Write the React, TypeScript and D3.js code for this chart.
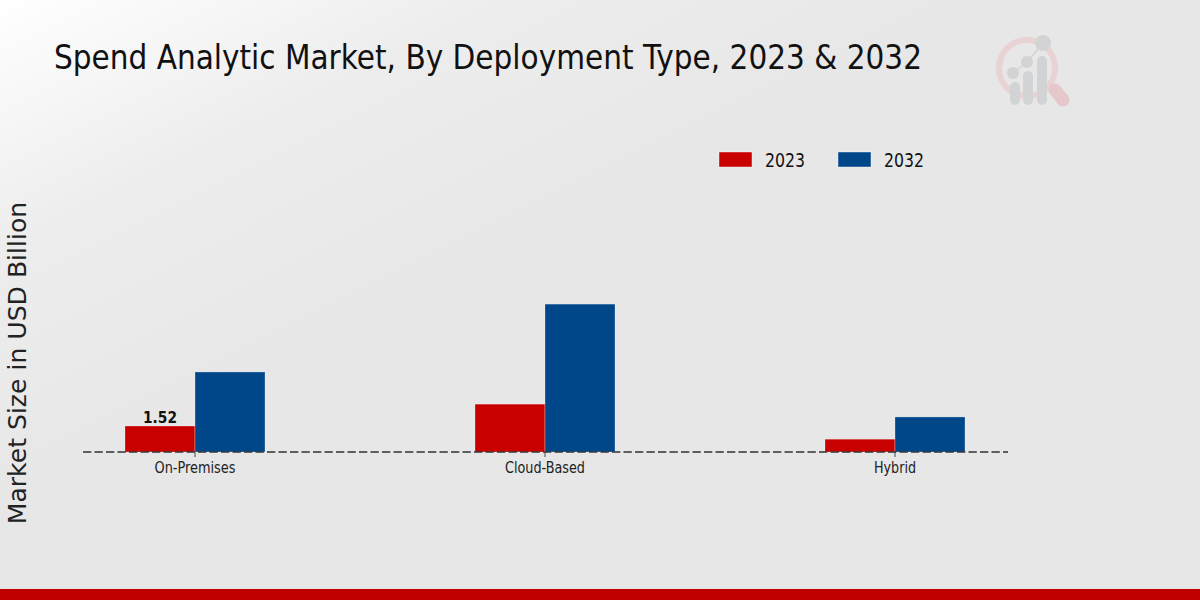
import * as d3 from "d3";

const TITLE = "Spend Analytic Market, By Deployment Type, 2023 & 2032";
const Y_LABEL = "Market Size in USD Billion";
const categories = ["On-Premises", "Cloud-Based", "Hybrid"];
const years = ["2023", "2032"];
const values2023 = [1.52, 2.8, 0.75];
const values2032 = [4.68, 8.65, 2.05];
const colors = ["#c80000", "#00478a"];

const WIDTH = 1200;
const HEIGHT = 600;
const FONT = "'DejaVu Sans', sans-serif";

const x = d3.scaleBand().domain(categories).range([20, 1070]).paddingInner(0.6).paddingOuter(0.3);
const y = d3.scaleLinear().domain([0, 10]).range([452, 281]);

// the original squeezes its text sideways, so set the final width directly
const Squeezed = ({ width, ...rest }: any) => (
  <text fontFamily={FONT} textLength={width} lengthAdjust="spacingAndGlyphs" {...rest} />
);

const Logo = () => (
  <g transform="translate(960,10)">
    <circle cx={67} cy={58} r={28} fill="none" stroke="#e8d2d3" strokeWidth={6} />
    <line x1={95} y1={80} x2={103} y2={90} stroke="#e6c8ca" strokeWidth={13} strokeLinecap="round" />
    <path d="M53,63 L67,52 L83,33" stroke="#d2d3d5" strokeWidth={1.5} fill="none" />
    <circle cx={53} cy={63} r={6} fill="#d2d3d5" />
    <circle cx={67} cy={52} r={6} fill="#d2d3d5" />
    <circle cx={83} cy={33} r={8} fill="#d2d3d5" />
    <rect x={50} y={72} width={10} height={23} rx={5} fill="#d2d3d5" />
    <rect x={63} y={61} width={10} height={34} rx={5} fill="#d2d3d5" />
    <rect x={77} y={46} width={10} height={49} rx={5} fill="#d2d3d5" />
  </g>
);

export default function App() {
  const band = x.bandwidth();
  const barW = band / 2;
  return (
    <svg
      width={WIDTH}
      height={HEIGHT}
      style={{ position: "absolute", left: 0, top: 0, display: "block" }}
    >
      <defs>
        <linearGradient id="bg" x1="0" y1="0" x2="0.42" y2="0.42">
          <stop offset="0" stopColor="#ffffff" />
          <stop offset="0.5" stopColor="#ededed" />
          <stop offset="1" stopColor="#e7e7e7" />
        </linearGradient>
      </defs>
      <rect width={WIDTH} height={HEIGHT} fill="url(#bg)" />
      <rect y={589} width={WIDTH} height={11} fill="#c00000" />
      <Logo />

      <Squeezed x={54} y={69} fontSize={34} width={868} fill="#111">
        {TITLE}
      </Squeezed>

      <text
        transform="translate(25.5,363) rotate(-90)"
        textAnchor="middle"
        fontSize={25.1}
        fill="#222"
        fontFamily={FONT}
      >
        {Y_LABEL}
      </text>

      {years.map((year, i) => (
        <g key={year}>
          <rect x={719 + i * 119} y={152} width={33} height={15} fill={colors[i]} stroke="#fff" strokeOpacity={0.6} strokeWidth={0.7} />
          <Squeezed x={765 + i * 119} y={166.5} fontSize={19} width={40} fill="#111">
            {year}
          </Squeezed>
        </g>
      ))}

      {categories.map((cat, i) => {
        const x0 = x(cat) as number;
        const center = x0 + barW;
        return (
          <g key={cat}>
            {[values2023[i], values2032[i]].map((v, j) => (
              <rect
                key={j}
                x={x0 + j * barW}
                y={y(v)}
                width={barW}
                height={y(0) - y(v)}
                fill={colors[j]}
                stroke="#fff"
                strokeOpacity={0.4}
                strokeWidth={0.7}
              />
            ))}
            <line x1={center} x2={center} y1={452} y2={457} stroke="#444" strokeWidth={1} />
            <text x={center} y={473} textAnchor="middle" fontSize={15.5} fill="#222" fontFamily={FONT} textLength={[81, 80, 42][i]} lengthAdjust="spacingAndGlyphs">
              {cat}
            </text>
          </g>
        );
      })}

      <line x1={83} x2={1008} y1={452} y2={452} stroke="#333" strokeWidth={1.3} strokeDasharray="8.3 3.2" />

      <text
        x={(x(categories[0]) as number) + barW / 2}
        y={y(values2023[0]) - 3}
        textAnchor="middle"
        fontSize={15.5}
        fontWeight="bold"
        fill="#111"
        fontFamily={FONT}
        textLength={34}
        lengthAdjust="spacingAndGlyphs"
      >
        {values2023[0]}
      </text>
    </svg>
  );
}
